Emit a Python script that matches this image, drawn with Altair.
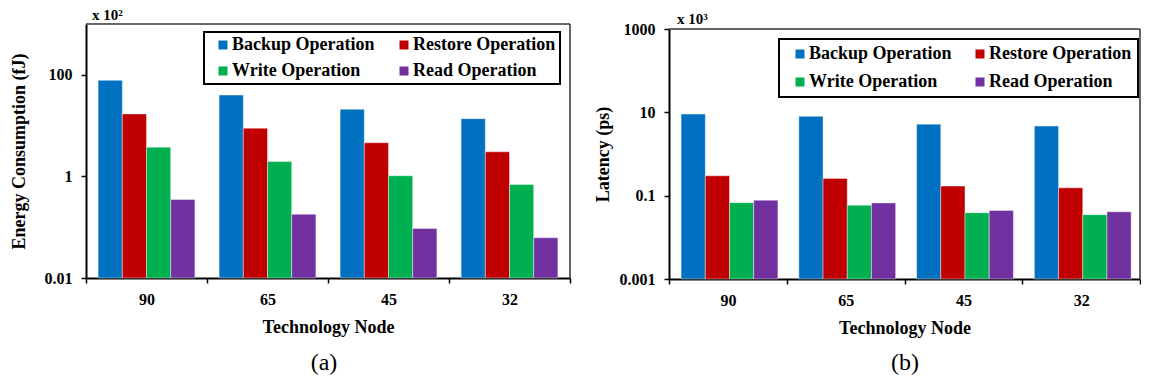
import altair as alt
import pandas as pd

nodes = ["90", "65", "45", "32"]
ops = ["Backup Operation", "Restore Operation", "Write Operation", "Read Operation"]
colors = ["#0070C0", "#C00000", "#00B050", "#7030A0"]

# (a) Energy consumption (x 10^2 fJ)
energy_backup = [78, 40, 21, 13.7]
energy_restore = [17, 8.9, 4.6, 3.05]
energy_write = [3.76, 1.97, 1.03, 0.69]
energy_read = [0.35, 0.18, 0.094, 0.062]

# (b) Latency (x 10^3 ps)
lat_backup = [9.1, 8.0, 5.2, 4.7]
lat_restore = [0.30, 0.26, 0.17, 0.154]
lat_write = [0.068, 0.059, 0.039, 0.035]
lat_read = [0.078, 0.067, 0.044, 0.041]

energy_domain = [0.01, 1000]
latency_domain = [0.001, 1000]
energy_ticks = [0.01, 1, 100]
latency_ticks = [0.001, 0.1, 10, 1000]

FONT = "Liberation Serif, Times New Roman, serif"
FRAME = "#333333"


def make_df(series, base):
    rows = []
    for op, vals in zip(ops, series):
        for n, v in zip(nodes, vals):
            rows.append({"node": n, "op": op, "value": v, "base": base})
    return pd.DataFrame(rows)


def panel(df, ytitle, domain, ticks, w, h, top, mult, mult_x, mult_y, caption, cap_x, cap_y,
          leg_x, leg_y, leg_pad, leg_rowpad, leg_symoff, leg_colpad, title_pad):
    bars = alt.Chart(df).mark_bar(stroke="white", strokeWidth=0.6, strokeOpacity=0.7).encode(
        x=alt.X("node:N", sort=nodes, title="Technology Node",
                scale=alt.Scale(paddingInner=0, paddingOuter=0),
                axis=alt.Axis(labelAngle=0, tickBand="extent", tickSize=5, tickWidth=1.5,
                              tickColor="black", domainColor="black", domainWidth=2,
                              labelPadding=8, titlePadding=11)),
        xOffset=alt.XOffset("op:N", sort=ops, scale=alt.Scale(paddingInner=0, paddingOuter=0.5)),
        y=alt.Y("value:Q", title=ytitle,
                scale=alt.Scale(type="log", domain=domain, nice=False, range=[h, top]),
                axis=alt.Axis(values=ticks, format="~g", grid=False, tickSize=5, tickWidth=1.5,
                              tickColor="black", domainColor="black", domainWidth=2,
                              labelPadding=9, titlePadding=title_pad)),
        y2="base:Q",
        color=alt.Color("op:N", sort=ops, scale=alt.Scale(domain=ops, range=colors),
                        legend=alt.Legend(title=None, orient="none", legendX=leg_x, legendY=leg_y,
                                          direction="horizontal", columns=2,
                                          columnPadding=leg_colpad,
                                          rowPadding=leg_rowpad, padding=leg_pad,
                                          strokeColor="black", fillColor="white",
                                          symbolType="square", symbolSize=81,
                                          symbolStrokeWidth=0, symbolOffset=leg_symoff,
                                          labelOffset=0,
                                          labelFont=FONT, labelFontWeight="bold",
                                          labelFontSize=18, labelColor="black", labelLimit=300)),
    )
    # plot frame (top and right edges)
    frame_top = alt.Chart(pd.DataFrame({"t": [0]})).mark_rule(
        color=FRAME, strokeWidth=1.5).encode(x=alt.value(0), x2=alt.value(w), y=alt.value(top))
    frame_right = alt.Chart(pd.DataFrame({"t": [0]})).mark_rule(
        color=FRAME, strokeWidth=1.5).encode(x=alt.value(w), y=alt.value(top), y2=alt.value(h))
    mult_txt = alt.Chart(pd.DataFrame({"t": [mult]})).mark_text(
        align="left", baseline="alphabetic", font=FONT, fontWeight="bold", fontSize=15,
        color="black").encode(text="t:N", x=alt.value(mult_x), y=alt.value(mult_y))
    cap_txt = alt.Chart(pd.DataFrame({"t": [caption]})).mark_text(
        align="center", baseline="alphabetic", font=FONT, fontSize=24,
        color="black").encode(text="t:N", x=alt.value(cap_x), y=alt.value(cap_y))
    return alt.layer(frame_top, frame_right, bars, mult_txt, cap_txt).properties(width=w, height=h)


left = panel(make_df([energy_backup, energy_restore, energy_write, energy_read], energy_domain[0]),
             "Energy Consumption (fJ)", energy_domain, energy_ticks, 484, 254, 0,
             "x 10²", 6, -4, "(a)", 238, 346, 118, 8, 4, 8, 6, 14, 16)
right = panel(make_df([lat_backup, lat_restore, lat_write, lat_read], latency_domain[0]),
              "Latency (ps)", latency_domain, latency_ticks, 471, 255, 5,
              "x 10³", 8, 0, "(b)", 236, 346, 110, 15, 6, 10, 6, 13, 7)

chart = alt.hconcat(left, right, spacing=23,
                    padding={"left": 2, "top": 0, "right": 0, "bottom": 0}).resolve_scale(
    color="independent", y="independent", x="independent").resolve_legend(
    color="independent").configure_view(stroke=None).configure_axis(
    labelFont=FONT, labelFontWeight="bold", labelFontSize=16, labelColor="black",
    titleFont=FONT, titleFontWeight="bold", titleFontSize=18, titleColor="black").configure_legend(
    strokeWidth=2)

chart.save("out.html", embed_options={"renderer": "svg", "actions": False})
